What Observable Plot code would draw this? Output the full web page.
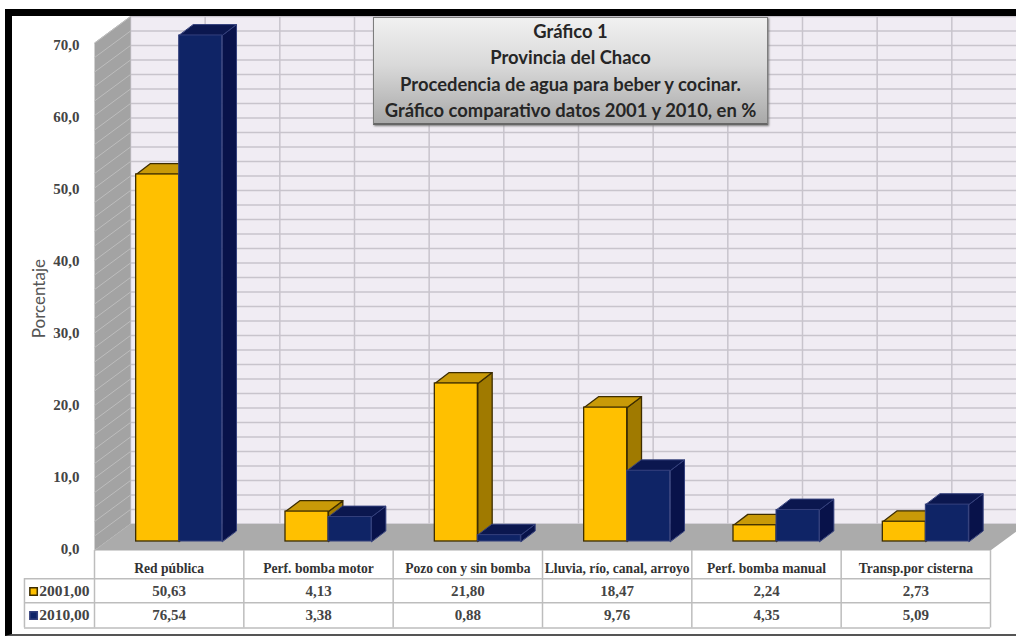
<!DOCTYPE html>
<html lang="es">
<head>
<meta charset="utf-8">
<script src="https://cdn.jsdelivr.net/npm/d3@7"></script>
<script src="https://cdn.jsdelivr.net/npm/@observablehq/plot@0.6"></script>
<style>
  html, body { margin: 0; padding: 0; background: #fff; overflow: hidden; width: 1016px; height: 636px; }
  #chart { position: absolute; left: 0; top: 0; }
  #chart svg { display: block; }
  #marco { position: absolute; left: 5px; top: 9px; width: 1100px; height: 618px; border: 7px solid #000; border-bottom-width: 2px; border-bottom-color: #555; pointer-events: none; }
  #titulo {
    position: absolute; left: 373px; top: 17px; width: 393px; height: 105px;
    background: linear-gradient(#f1f1f1, #d9d9d9 45%, #a9a9a9);
    border: 1px solid #7d7d7d; border-bottom: 2px solid #666; box-shadow: 1px 1px 2px #777;
    font: bold 18.4px/26.4px Lato, sans-serif; color: #262626; text-align: center; white-space: nowrap;
  }
</style>
</head>
<body>
<div id="chart"></div>
<div id="marco"></div>
<div id="titulo">Gráfico 1<br>Provincia del Chaco<br>Procedencia de agua para beber y cocinar.<br>Gráfico comparativo datos 2001 y 2010, en %</div>
<script>
// Fuentes de agua y porcentajes de cada censo
const categorias = ["Red pública", "Perf. bomba motor", "Pozo con y sin bomba", "Lluvia, río, canal, arroyo", "Perf. bomba manual", "Transp.por cisterna"];
const valores2001 = [50.63, 4.13, 21.80, 18.47, 2.24, 2.73];
const valores2010 = [76.54, 3.38, 0.88, 9.76, 4.35, 5.09];
const series = ["2001,00", "2010,00"];
const marcasEje = [0, 10, 20, 30, 40, 50, 60, 70];
const lineasGuia = d3.range(0, 72, 2);
const columnasGuia = d3.range(0, 12).map((d) => d / 2);

// El eje del gráfico termina en este valor: la barra que lo supera queda cortada
const techoEje = 69.8;

// Geometría de la perspectiva, en unidades de las escalas
const anchoBarra = 0.288, centroBarra = 0.567;
const fondoBarraX = 0.096, fondoBarraY = 1.5;
const pisoFrente = -1.25, pisoFondo = 2.41, paredX = 0.241;
const filaEncabezado = -3.7, filaA = -6.9, filaB = -10.2;
const bordesFila = [-5.13, -8.46, -11.93];
const celdaLeyenda = -0.469;

const formato = (d, dec) => d.toFixed(dec).replace(".", ",");

function barras(valores, desde, hasta) {
  return valores.map((v, i) => {
    const tope = Math.min(v, techoEje);
    return { i, x1: i + centroBarra + desde * anchoBarra, x2: i + centroBarra + hasta * anchoBarra, tope };
  });
}

// Cara superior y lateral de cada barra como polígonos cerrados
const caraSuperior = (b) => b.flatMap((d) => [
  [d.x1, d.tope], [d.x2, d.tope], [d.x2 + fondoBarraX, d.tope + fondoBarraY], [d.x1 + fondoBarraX, d.tope + fondoBarraY]
].map(([x, y]) => ({ id: d.i, x, y })));
const caraLateral = (b) => b.flatMap((d) => [
  [d.x2, 0], [d.x2, d.tope], [d.x2 + fondoBarraX, d.tope + fondoBarraY], [d.x2 + fondoBarraX, fondoBarraY]
].map(([x, y]) => ({ id: d.i, x, y })));

function marcasSerie(valores, desde, hasta, c) {
  const b = barras(valores, desde, hasta);
  const poligono = (datos, relleno) => Plot.line(datos, {
    x: "x", y: "y", z: "id", curve: "linear-closed", fill: relleno, stroke: c.borde, strokeWidth: c.grosor
  });
  return [
    poligono(caraLateral(b), c.lateral),
    poligono(caraSuperior(b), c.superior),
    Plot.rect(b, { x1: "x1", x2: "x2", y1: 0, y2: "tope", fill: c.frente, stroke: c.borde, strokeWidth: c.grosor })
  ];
}

const amarillo = { frente: "#ffc000", superior: "#c99a08", lateral: "#a07a00", borde: "#3d2d00", grosor: 1.3 };
const azul = { frente: "#0f2466", superior: "#0b174f", lateral: "#08124a", borde: "#34407c", grosor: 1 };

const fuenteTabla = "'Liberation Serif', serif";

const grafico = Plot.plot({
  width: 1016,
  height: 636,
  marginLeft: 94,
  marginRight: 26,
  marginTop: 0,
  marginBottom: 0,
  style: { background: "#fff", overflow: "hidden" },
  x: { domain: [0, 6], axis: null },
  y: { domain: [0, 70], range: [541, 33.5], axis: null },
  marks: [
    // Plano de fondo con su cuadrícula
    Plot.rect([0], { x1: paredX, x2: 6.25, y1: pisoFondo, y2: 73, fill: "#f0ecf3" }),
    Plot.ruleY(lineasGuia, { y: (d) => d + pisoFondo, x1: paredX, x2: 6.25, stroke: "#c8c4cc", strokeWidth: 1.5 }),
    Plot.ruleX(columnasGuia, { x: (d) => d + paredX, y1: pisoFondo, y2: 73, stroke: "#c8c4cc", strokeWidth: 1.5 }),

    // Pared lateral rayada
    Plot.line([[0, pisoFrente], [paredX, pisoFondo], [paredX, 70 + pisoFondo], [0, 70 + pisoFrente]], {
      x: "0", y: "1", curve: "linear-closed", fill: "#a3a3a3"
    }),
    Plot.link(lineasGuia.concat(70), {
      x1: 0, x2: paredX, y1: (d) => d + pisoFrente, y2: (d) => d + pisoFondo, stroke: "#bdbdbd", strokeWidth: 1
    }),

    // Piso
    Plot.line([[0, pisoFrente], [6, pisoFrente], [6 + paredX, pisoFondo], [paredX, pisoFondo]], {
      x: "0", y: "1", curve: "linear-closed", fill: "#ababab"
    }),

    // Barras de ambos censos
    ...marcasSerie(valores2001, -1, 0, amarillo),
    ...marcasSerie(valores2010, 0, 1, azul),

    // Escala vertical y su título
    Plot.text(marcasEje, {
      x: 0, dx: -15, textAnchor: "end", y: (d) => d * 0.993 - 1.1, text: (d) => formato(d, 1),
      fontFamily: fuenteTabla, fontWeight: "bold", fontSize: 15, fill: "#444"
    }),
    Plot.text(["Porcentaje"], {
      x: -0.37, y: 33.5, rotate: -90, fontFamily: "Lato, sans-serif", fontSize: 17, fill: "#555"
    }),

    // Tabla de datos
    Plot.ruleX(d3.range(0, 7), { x: (d) => d, y1: pisoFrente, y2: bordesFila[2], stroke: "#bdbdbd", strokeWidth: 1.5 }),
    Plot.ruleX([celdaLeyenda], { x: (d) => d, y1: bordesFila[0], y2: bordesFila[2], stroke: "#bdbdbd", strokeWidth: 1.5 }),
    Plot.ruleY(bordesFila, { y: (d) => d, x1: celdaLeyenda, x2: 6, stroke: "#bdbdbd", strokeWidth: 1.5 }),
    Plot.text(categorias, {
      x: (d, i) => i + 0.5, y: filaEncabezado, text: (d) => d,
      fontFamily: fuenteTabla, fontWeight: "bold", fontSize: 13.6, fill: "#333"
    }),
    Plot.text(valores2001, {
      x: (d, i) => i + 0.5, y: filaA, text: (d) => formato(d, 2),
      fontFamily: fuenteTabla, fontWeight: "bold", fontSize: 15, fill: "#444"
    }),
    Plot.text(valores2010, {
      x: (d, i) => i + 0.5, y: filaB, text: (d) => formato(d, 2),
      fontFamily: fuenteTabla, fontWeight: "bold", fontSize: 15, fill: "#444"
    }),

    // Leyenda dentro de la tabla
    Plot.dot(series, {
      x: -0.408, y: (d, i) => [filaA, filaB][i], symbol: "square", r: 4.2,
      fill: (d, i) => [amarillo.frente, azul.frente][i], stroke: (d, i) => [amarillo.borde, azul.borde][i]
    }),
    Plot.text(series, {
      x: -0.37, y: (d, i) => [filaA, filaB][i], text: (d) => d, textAnchor: "start",
      fontFamily: fuenteTabla, fontWeight: "bold", fontSize: 15.5, fill: "#444"
    })
  ]
});

document.getElementById("chart").append(grafico);
</script>
</body>
</html>
